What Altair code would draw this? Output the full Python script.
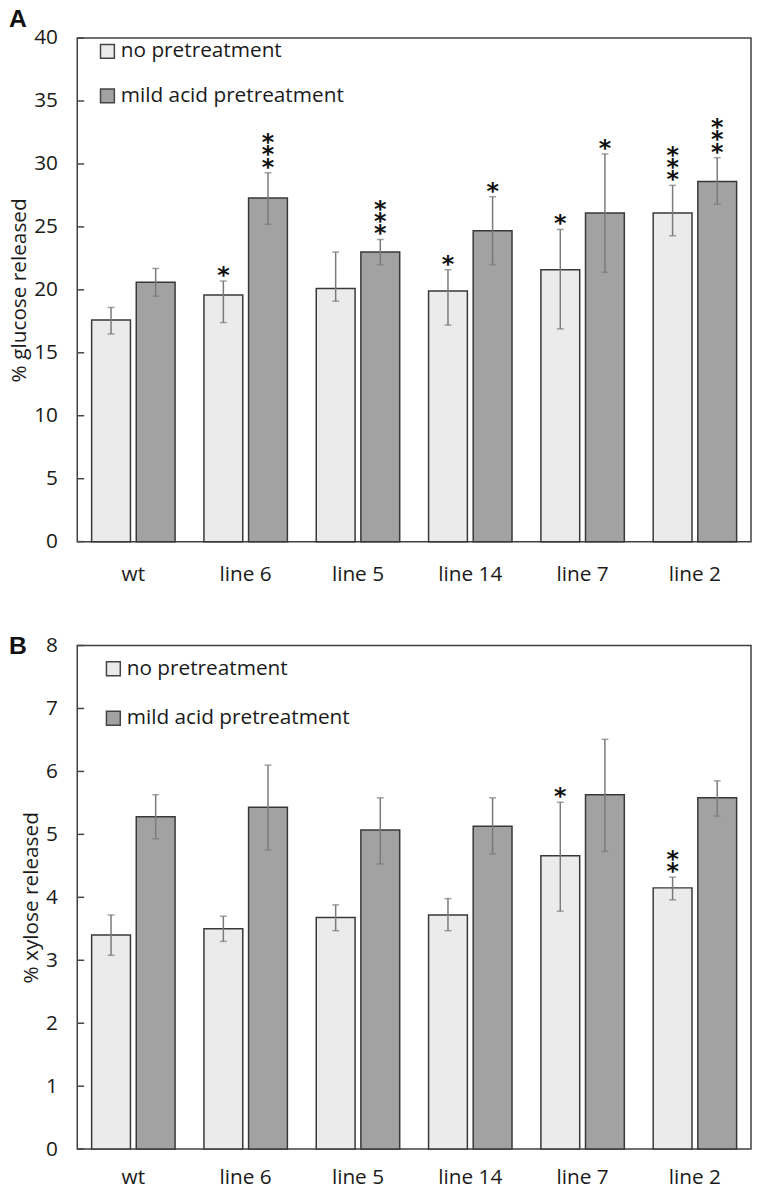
import altair as alt
import pandas as pd

# ---------------- data ----------------
categories = ["wt", "line 6", "line 5", "line 14", "line 7", "line 2"]
series = ["no pretreatment", "mild acid pretreatment"]

glucose_none = [17.6, 19.6, 20.1, 19.9, 21.6, 26.1]
glucose_none_lo = [16.5, 17.4, 19.1, 17.2, 16.9, 24.3]
glucose_none_hi = [18.6, 20.7, 23.0, 21.6, 24.8, 28.3]
glucose_none_stars = ["", "*", "", "*", "*", "***"]

glucose_acid = [20.6, 27.3, 23.0, 24.7, 26.1, 28.6]
glucose_acid_lo = [19.5, 25.2, 22.0, 22.0, 21.4, 26.8]
glucose_acid_hi = [21.7, 29.3, 24.0, 27.4, 30.8, 30.5]
glucose_acid_stars = ["", "***", "***", "*", "*", "***"]

xylose_none = [3.40, 3.50, 3.68, 3.72, 4.66, 4.15]
xylose_none_lo = [3.08, 3.30, 3.47, 3.47, 3.78, 3.96]
xylose_none_hi = [3.72, 3.70, 3.88, 3.98, 5.51, 4.32]
xylose_none_stars = ["", "", "", "", "*", "**"]

xylose_acid = [5.28, 5.43, 5.07, 5.13, 5.63, 5.58]
xylose_acid_lo = [4.93, 4.75, 4.53, 4.69, 4.73, 5.29]
xylose_acid_hi = [5.63, 6.10, 5.58, 5.58, 6.51, 5.85]
xylose_acid_stars = ["", "", "", "", "", ""]

glucose_ticks = [0, 5, 10, 15, 20, 25, 30, 35, 40]
xylose_ticks = [0, 1, 2, 3, 4, 5, 6, 7, 8]

FONT = "Open Sans"
FS = 21
TXT = "#1a1a1a"
FILLS = ["#ebebeb", "#a2a2a2"]
STAR_LH = 12.5
STAR_DY = 7


def build_df(none_v, none_lo, none_hi, none_s, acid_v, acid_lo, acid_hi, acid_s):
    rows = []
    for i, c in enumerate(categories):
        for s, v, lo, hi, st in ((series[0], none_v, none_lo, none_hi, none_s),
                                 (series[1], acid_v, acid_lo, acid_hi, acid_s)):
            rows.append(dict(cat=c, series=s, value=v[i], lo=lo[i], hi=hi[i],
                             stars="\n".join(st[i]), n=len(st[i])))
    return pd.DataFrame(rows)


def panel(df, ymax, yticks, ytitle, letter, lx, ly, rowpad, title_dy, title_offset,
          xlabpad):
    yscale = alt.Scale(domain=[0, ymax], nice=False, zero=True)
    yaxis = alt.Axis(values=yticks, title=ytitle, grid=False, ticks=False,
                     domain=False, labelPadding=20, labelFontSize=FS,
                     labelFont=FONT, labelColor=TXT, titleFont=FONT,
                     titleFontSize=FS, titleFontWeight="normal",
                     titleColor=TXT, titlePadding=4)
    base = alt.Chart(df).encode(
        x=alt.X("cat:N", sort=categories,
                scale=alt.Scale(paddingInner=0.257, paddingOuter=0.128),
                axis=alt.Axis(title=None, labelAngle=0, ticks=False, domain=False,
                              labelPadding=xlabpad, labelFontSize=FS, labelFont=FONT,
                              labelColor=TXT)),
        xOffset=alt.XOffset("series:N", sort=series,
                            scale=alt.Scale(paddingInner=0.13, paddingOuter=0)),
    )
    bars = base.mark_bar(stroke="#383838", strokeWidth=1.5).encode(
        y=alt.Y("value:Q", scale=yscale, axis=yaxis),
        fill=alt.Fill("series:N", sort=series,
                      scale=alt.Scale(domain=series, range=FILLS),
                      legend=alt.Legend(title=None, orient="none", legendX=lx, legendY=ly,
                                        direction="vertical", symbolType="square",
                                        symbolSize=196, symbolStrokeColor="#444",
                                        symbolStrokeWidth=1.5, labelFontSize=FS,
                                        labelFont=FONT, labelColor=TXT, labelLimit=0,
                                        rowPadding=rowpad, labelOffset=3)),
    )
    err = base.mark_rule(color="#7a7a7a", strokeWidth=1.5).encode(
        y=alt.Y("lo:Q", scale=yscale, axis=yaxis), y2="hi:Q")
    cap_lo = base.mark_tick(color="#7a7a7a", size=7, thickness=1.5).encode(
        y=alt.Y("lo:Q", scale=yscale, axis=yaxis))
    cap_hi = base.mark_tick(color="#7a7a7a", size=7, thickness=1.5).encode(
        y=alt.Y("hi:Q", scale=yscale, axis=yaxis))
    star_layers = []
    for k in (1, 2, 3):
        star_layers.append(
            base.transform_filter(alt.datum.n == k).mark_text(
                font="DejaVu Sans", fontWeight="bold", fontSize=24, lineBreak="\n",
                lineHeight=STAR_LH, baseline="bottom",
                dy=STAR_DY - (k - 1) * STAR_LH, color="#111").encode(
                y=alt.Y("hi:Q", scale=yscale, axis=yaxis), text="stars:N"))
    ticks = alt.Chart(pd.DataFrame({"t": yticks})).mark_rule(
        color="#444", strokeWidth=1.5).encode(
        y=alt.Y("t:Q", scale=yscale, axis=yaxis), x=alt.value(0), x2=alt.value(7))
    return alt.layer(bars, err, cap_lo, cap_hi, *star_layers, ticks).properties(
        width=681, height=509,
        title=alt.TitleParams(text=letter, anchor="start", frame="group", dx=-69,
                              dy=title_dy, font="Liberation Sans", fontSize=25,
                              fontWeight="bold", color="#111", offset=title_offset),
    )


df_g = build_df(glucose_none, glucose_none_lo, glucose_none_hi, glucose_none_stars,
                glucose_acid, glucose_acid_lo, glucose_acid_hi, glucose_acid_stars)
df_x = build_df(xylose_none, xylose_none_lo, xylose_none_hi, xylose_none_stars,
                xylose_acid, xylose_acid_lo, xylose_acid_hi, xylose_acid_stars)

pa = panel(df_g, 40, glucose_ticks, "% glucose released", "A", 20, 3, 23, 0, -5, 22)
pb = panel(df_x, 8, xylose_ticks, "% xylose released", "B", 26, 13, 28, 29, 4, 18)

chart = alt.vconcat(pa, pb, spacing=49).resolve_scale(
    fill="independent").resolve_legend(fill="independent").properties(
    padding={"top": -8, "left": 0, "right": 0, "bottom": 0}).configure_view(
    stroke="#404040", strokeWidth=1.5)

chart.save("out.html", embed_options={"renderer": "svg", "actions": False})
